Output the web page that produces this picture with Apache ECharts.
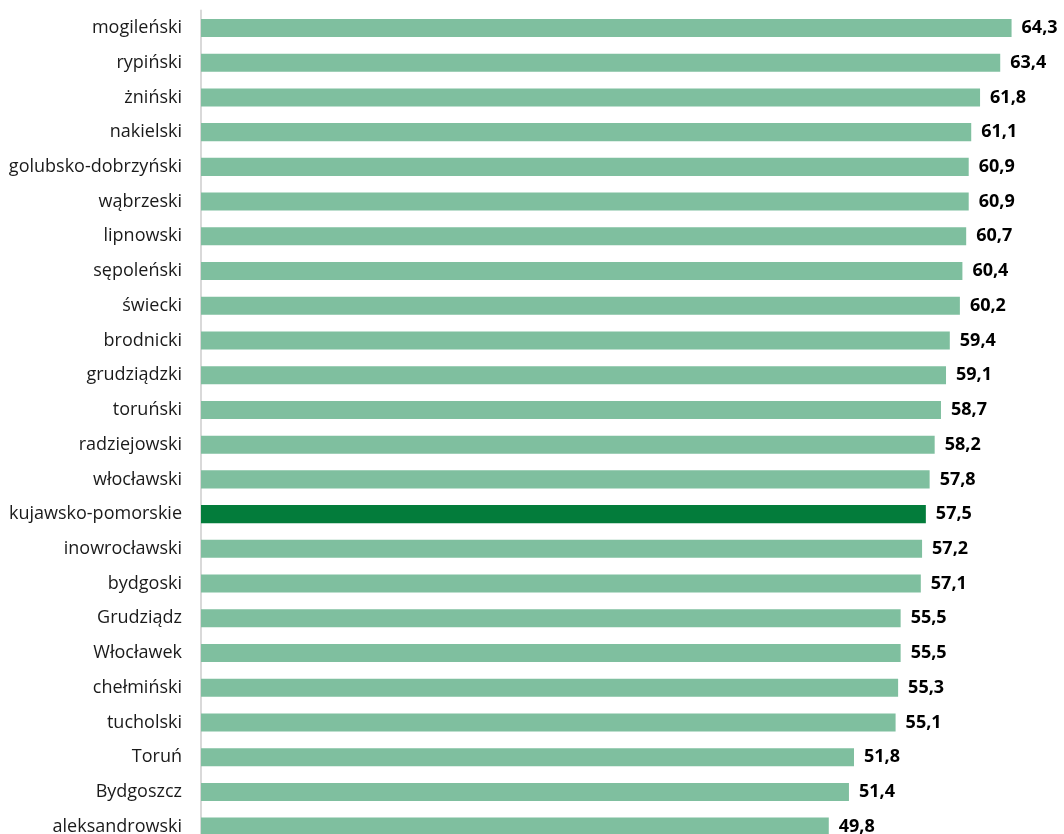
<!DOCTYPE html>
<html>
<head>
<meta charset="utf-8">
<script src="https://cdn.jsdelivr.net/npm/echarts@6/dist/echarts.min.js"></script>
<style>
  html, body { margin: 0; padding: 0; background: #ffffff; overflow: hidden; }
  #chart { width: 1064px; height: 844px; }
</style>
</head>
<body>
<div id="chart"></div>
<script>
// Districts, listed top to bottom
const districts = [
  'mogileński', 'rypiński', 'żniński', 'nakielski', 'golubsko-dobrzyński',
  'wąbrzeski', 'lipnowski', 'sępoleński', 'świecki', 'brodnicki',
  'grudziądzki', 'toruński', 'radziejowski', 'włocławski', 'kujawsko-pomorskie',
  'inowrocławski', 'bydgoski', 'Grudziądz', 'Włocławek', 'chełmiński',
  'tucholski', 'Toruń', 'Bydgoszcz', 'aleksandrowski'
];
const values = [
  64.3, 63.4, 61.8, 61.1, 60.9,
  60.9, 60.7, 60.4, 60.2, 59.4,
  59.1, 58.7, 58.2, 57.8, 57.5,
  57.2, 57.1, 55.5, 55.5, 55.3,
  55.1, 51.8, 51.4, 49.8
];
// The voivodeship total is drawn in a darker green
const regionTotal = 'kujawsko-pomorskie';

const baseColor = '#7fbf9f';
const totalColor = '#037c3b';
const font = '"Open Sans", Lato, sans-serif';

const chart = echarts.init(document.getElementById('chart'), null, { renderer: 'canvas' });
chart.setOption({
  animation: false,
  textStyle: { fontFamily: font },
  grid: { left: 201, right: 31, top: 10.6, bottom: 0, containLabel: false },
  xAxis: {
    type: 'value',
    min: 0,
    max: 66,
    show: false
  },
  yAxis: {
    type: 'category',
    inverse: true,
    data: districts,
    axisLine: { show: true, lineStyle: { color: '#d9d9d9', width: 2 } },
    axisTick: { show: false },
    axisLabel: {
      color: '#1a1a1a',
      fontSize: 18,
      margin: 19,
      fontFamily: font
    }
  },
  series: [{
    type: 'bar',
    data: values.map((v, i) => ({
      value: v,
      itemStyle: { color: districts[i] === regionTotal ? totalColor : baseColor }
    })),
    barCategoryGap: '48%',
    label: {
      show: true,
      position: 'right',
      distance: 10,
      color: '#000000',
      fontWeight: 'bold',
      fontSize: 18,
      fontFamily: font,
      formatter: p => p.value.toFixed(1).replace('.', ',')
    }
  }]
});
</script>
</body>
</html>
